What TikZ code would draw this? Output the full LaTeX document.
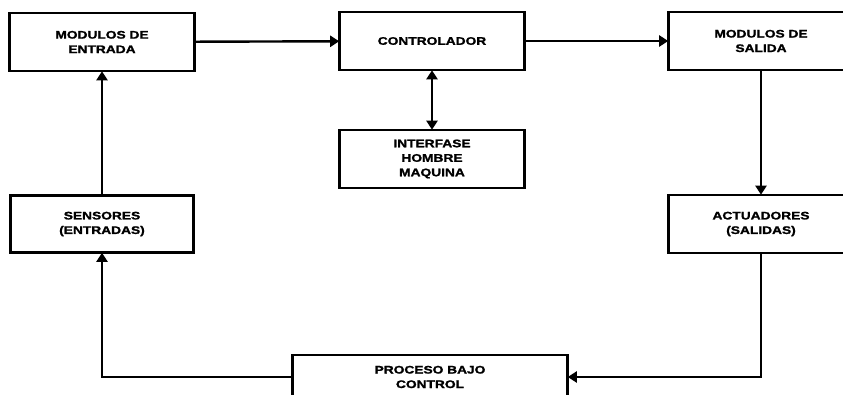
\documentclass[tikz,border=0pt]{standalone}
\usepackage{fontspec}
\setmainfont[FakeStretch=1.25,FakeBold=1.5]{Liberation Sans}
\usepackage{tikz}
\usetikzlibrary{arrows.meta,positioning}

\begin{document}
\begin{tikzpicture}[x=1pt,y=-1pt,>=Triangle,font=\bfseries\fontsize{11}{14.5}\selectfont]

\tikzset{
bloque/.style={
    draw=black,
    line width=2.6pt,
    fill=white,
    minimum width=185pt,
    minimum height=58pt,
    inner sep=0pt,
    align=center
},
a/.style={->,line width=2.4pt,shorten >=-1pt,
    >={Triangle[length=9pt,width=11pt]}}
}

\useasboundingbox (0,0) rectangle (843,395);

\node[bloque] (entrada) at (102,42) {MODULOS DE\\ENTRADA};
\node[bloque] (control) at (432,41) {CONTROLADOR};
\node[bloque] (salida) at (761,41) {MODULOS DE\\SALIDA};
\node[bloque] (ihm) at (432,159) {INTERFASE\\HOMBRE\\MAQUINA};
\node[bloque,minimum width=183pt,minimum height=57pt] (sensor) at (102,224) {SENSORES\\(ENTRADAS)};
\node[bloque] (actuad) at (761,224) {ACTUADORES\\(SALIDAS)};
\node[bloque,minimum width=275pt,minimum height=44pt] (proceso) at (430,377) {PROCESO BAJO\\CONTROL};

\coordinate (c1) at (actuad.south |- proceso.east);
\coordinate (c2) at (sensor.south |- proceso.west);

\draw[a] (entrada) -- (control);
\draw[a] (control) -- (salida);
\draw[a,<->,shorten <=-1pt] (control) -- (ihm);
\draw[a] (salida) -- (actuad);
\draw[a] (sensor) -- (entrada);
\draw[a] (actuad.south) -- (c1) -- (proceso.east);
\draw[a] (proceso.west) -- (c2) -- (sensor.south);

\end{tikzpicture}
\end{document}
